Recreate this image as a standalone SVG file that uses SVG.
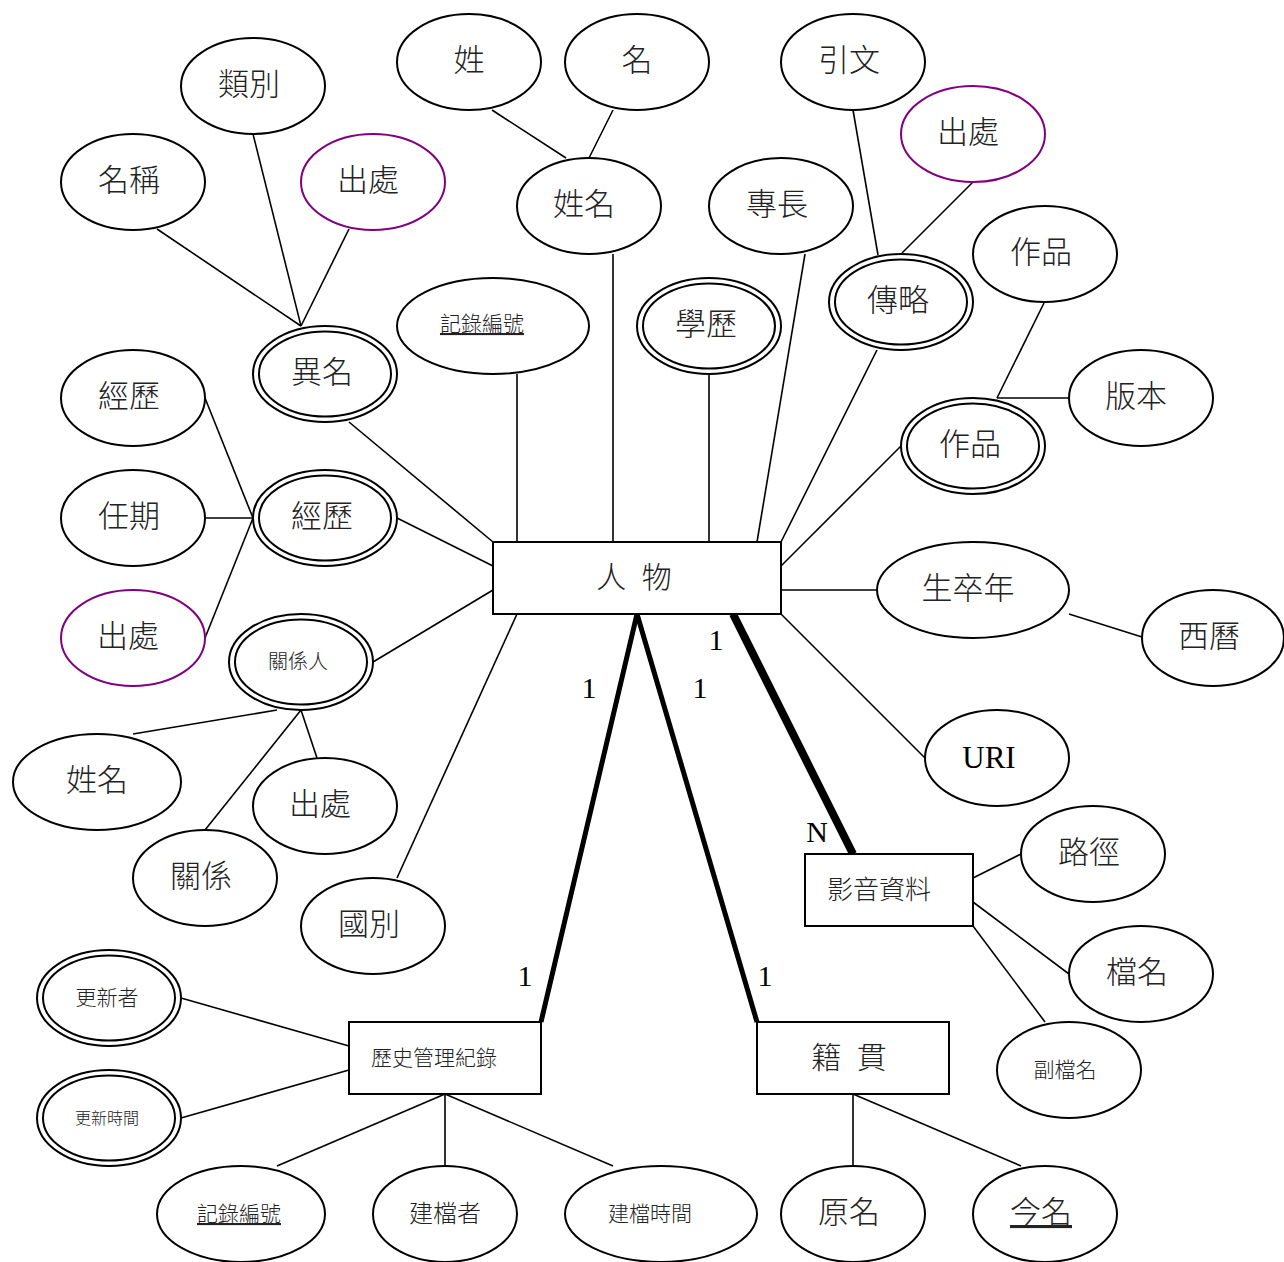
<svg xmlns="http://www.w3.org/2000/svg" width="1284" height="1262" viewBox="0 0 1284 1262">
<style>
.e{fill:#fff;stroke:#000;stroke-width:2}
.p{fill:#fff;stroke:#800080;stroke-width:2}
.r{fill:#fff;stroke:#000;stroke-width:2}
.c line{stroke:#000;stroke-width:1.6}
.t{font-family:"Noto Sans CJK TC","Noto Sans CJK SC",sans-serif;font-weight:300;text-anchor:middle;fill:#222}
.l{font-family:"Liberation Serif",serif;font-size:30px;fill:#000;text-anchor:middle}
.u{text-decoration:underline}
</style>
<rect width="1284" height="1262" fill="#fff"/>
<g class="c" id="connectors">
<line x1="157" y1="229" x2="301" y2="326"/>
<line x1="253" y1="134" x2="301" y2="326"/>
<line x1="349" y1="229" x2="301" y2="326"/>
<line x1="492" y1="110" x2="566" y2="158"/>
<line x1="613" y1="110" x2="589" y2="158"/>
<line x1="853" y1="110" x2="878" y2="255"/>
<line x1="973" y1="182" x2="902" y2="253"/>
<line x1="1044" y1="303" x2="997" y2="398"/>
<line x1="997" y1="398" x2="1069" y2="398"/>
<line x1="349" y1="422" x2="493" y2="542"/>
<line x1="517" y1="374" x2="517" y2="542"/>
<line x1="613" y1="254" x2="613" y2="542"/>
<line x1="709" y1="375" x2="709" y2="542"/>
<line x1="805" y1="254" x2="757" y2="542"/>
<line x1="877" y1="350" x2="781" y2="542"/>
<line x1="901" y1="446" x2="781" y2="566"/>
<line x1="205" y1="398" x2="253" y2="518"/>
<line x1="205" y1="518" x2="253" y2="518"/>
<line x1="205" y1="638" x2="253" y2="518"/>
<line x1="397" y1="518" x2="493" y2="566"/>
<line x1="373" y1="662" x2="493" y2="590"/>
<line x1="133" y1="734" x2="277" y2="710"/>
<line x1="205" y1="830" x2="301" y2="710"/>
<line x1="317" y1="758" x2="301" y2="710"/>
<line x1="397" y1="878" x2="517" y2="614"/>
<line x1="781" y1="590" x2="877" y2="590"/>
<line x1="1069" y1="614" x2="1142" y2="637"/>
<line x1="781" y1="614" x2="925" y2="758"/>
<line x1="637" y1="614" x2="541" y2="1022" style="stroke-width:5"/>
<line x1="637" y1="614" x2="757" y2="1022" style="stroke-width:5"/>
<line x1="733" y1="614" x2="853" y2="854" style="stroke-width:8"/>
<line x1="973" y1="878" x2="1021" y2="854"/>
<line x1="973" y1="902" x2="1069" y2="974"/>
<line x1="973" y1="926" x2="1045" y2="1022"/>
<line x1="181" y1="998" x2="349" y2="1046"/>
<line x1="181" y1="1118" x2="349" y2="1070"/>
<line x1="445" y1="1094" x2="277" y2="1166"/>
<line x1="445" y1="1094" x2="445" y2="1166"/>
<line x1="445" y1="1094" x2="613" y2="1166"/>
<line x1="853" y1="1094" x2="853" y2="1166"/>
<line x1="853" y1="1094" x2="1021" y2="1166"/>
</g>
<g id="labels">
<text class="l" x="716" y="650">1</text>
<text class="l" x="589" y="698">1</text>
<text class="l" x="700" y="698">1</text>
<text class="l" x="817" y="842">N</text>
<text class="l" x="525" y="986">1</text>
<text class="l" x="765" y="986">1</text>
</g>
<g id="n-renwu"><rect class="r" x="493" y="542" width="288" height="72"/><text class="t" x="634" y="588" font-size="30" word-spacing="9">人 物</text></g>
<g id="n-yingyin"><rect class="r" x="805" y="854" width="168" height="72"/><text class="t" x="879" y="899" font-size="26">影音資料</text></g>
<g id="n-jiguan"><rect class="r" x="757" y="1022" width="192" height="72"/><text class="t" x="849" y="1068" font-size="30" word-spacing="9">籍 貫</text></g>
<g id="n-lishi"><rect class="r" x="349" y="1022" width="192" height="72"/><text class="t" x="434" y="1065" font-size="21">歷史管理紀錄</text></g>
<g id="a-leibie"><ellipse class="e" cx="253" cy="86" rx="72" ry="48"/><text class="t" x="249" y="95" font-size="31">類別</text></g>
<g id="a-mingcheng"><ellipse class="e" cx="133" cy="182" rx="72" ry="48"/><text class="t" x="129" y="191" font-size="31">名稱</text></g>
<g id="a-chuchu1"><ellipse class="p" cx="373" cy="182" rx="72" ry="48"/><text class="t" x="368" y="191" font-size="31">出處</text></g>
<g id="a-yiming"><ellipse class="e" cx="325" cy="374" rx="72" ry="48"/><ellipse class="e" cx="325" cy="374" rx="66" ry="42.5"/><text class="t" x="322" y="383" font-size="31">異名</text></g>
<g id="a-xing"><ellipse class="e" cx="469" cy="62" rx="72" ry="48"/><text class="t" x="469" y="71" font-size="31">姓</text></g>
<g id="a-ming"><ellipse class="e" cx="637" cy="62" rx="72" ry="48"/><text class="t" x="637" y="71" font-size="31">名</text></g>
<g id="a-xingming"><ellipse class="e" cx="589" cy="206" rx="72" ry="48"/><text class="t" x="584" y="215" font-size="31">姓名</text></g>
<g id="a-zhuanchang"><ellipse class="e" cx="781" cy="206" rx="72" ry="48"/><text class="t" x="777" y="215" font-size="31">專長</text></g>
<g id="a-jilu1"><ellipse class="e" cx="493" cy="326" rx="96" ry="48"/><text class="t u" x="482" y="331" font-size="21">記錄編號</text></g>
<g id="a-xueli"><ellipse class="e" cx="709" cy="326" rx="72" ry="48"/><ellipse class="e" cx="709" cy="326" rx="66" ry="42.5"/><text class="t" x="706" y="335" font-size="31">學歷</text></g>
<g id="a-yinwen"><ellipse class="e" cx="853" cy="62" rx="72" ry="48"/><text class="t" x="849" y="71" font-size="31">引文</text></g>
<g id="a-chuchu2"><ellipse class="p" cx="973" cy="134" rx="72" ry="48"/><text class="t" x="968" y="143" font-size="31">出處</text></g>
<g id="a-zhuanlue"><ellipse class="e" cx="901" cy="302" rx="72" ry="48"/><ellipse class="e" cx="901" cy="302" rx="66" ry="42.5"/><text class="t" x="898" y="311" font-size="31">傳略</text></g>
<g id="a-zuopin1"><ellipse class="e" cx="1045" cy="254" rx="72" ry="48"/><text class="t" x="1041" y="263" font-size="31">作品</text></g>
<g id="a-banben"><ellipse class="e" cx="1141" cy="398" rx="72" ry="48"/><text class="t" x="1136" y="407" font-size="31">版本</text></g>
<g id="a-zuopin2"><ellipse class="e" cx="973" cy="446" rx="72" ry="48"/><ellipse class="e" cx="973" cy="446" rx="66" ry="42.5"/><text class="t" x="970" y="455" font-size="31">作品</text></g>
<g id="a-jingli1"><ellipse class="e" cx="133" cy="398" rx="72" ry="48"/><text class="t" x="129" y="407" font-size="31">經歷</text></g>
<g id="a-renqi"><ellipse class="e" cx="133" cy="518" rx="72" ry="48"/><text class="t" x="129" y="527" font-size="31">任期</text></g>
<g id="a-chuchu3"><ellipse class="p" cx="133" cy="638" rx="72" ry="48"/><text class="t" x="128" y="647" font-size="31">出處</text></g>
<g id="a-jingli2"><ellipse class="e" cx="325" cy="518" rx="72" ry="48"/><ellipse class="e" cx="325" cy="518" rx="66" ry="42.5"/><text class="t" x="322" y="527" font-size="31">經歷</text></g>
<g id="a-guanxiren"><ellipse class="e" cx="301" cy="662" rx="72" ry="48"/><ellipse class="e" cx="301" cy="662" rx="66" ry="42.5"/><text class="t" x="298" y="669" font-size="20">關係人</text></g>
<g id="a-xingming2"><ellipse class="e" cx="97" cy="782" rx="84" ry="48"/><text class="t" x="97" y="791" font-size="31">姓名</text></g>
<g id="a-chuchu4"><ellipse class="e" cx="325" cy="806" rx="72" ry="48"/><text class="t" x="320" y="815" font-size="31">出處</text></g>
<g id="a-guanxi"><ellipse class="e" cx="205" cy="878" rx="72" ry="48"/><text class="t" x="201" y="887" font-size="31">關係</text></g>
<g id="a-guobie"><ellipse class="e" cx="373" cy="926" rx="72" ry="48"/><text class="t" x="369" y="935" font-size="31">國別</text></g>
<g id="a-shengzu"><ellipse class="e" cx="973" cy="590" rx="96" ry="48"/><text class="t" x="968" y="599" font-size="31">生卒年</text></g>
<g id="a-xili"><ellipse class="e" cx="1213" cy="638" rx="71" ry="48"/><text class="t" x="1209" y="647" font-size="31">西曆</text></g>
<g id="a-uri"><ellipse class="e" cx="997" cy="758" rx="72" ry="48"/><text x="989" y="768" font-family="Liberation Serif,serif" font-size="31" text-anchor="middle">URI</text></g>
<g id="a-lujing"><ellipse class="e" cx="1093" cy="854" rx="72" ry="48"/><text class="t" x="1089" y="863" font-size="31">路徑</text></g>
<g id="a-dangming"><ellipse class="e" cx="1141" cy="974" rx="72" ry="48"/><text class="t" x="1137" y="983" font-size="31">檔名</text></g>
<g id="a-fudangming"><ellipse class="e" cx="1069" cy="1070" rx="72" ry="48"/><text class="t" x="1065" y="1077" font-size="21">副檔名</text></g>
<g id="a-yuanming"><ellipse class="e" cx="853" cy="1214" rx="72" ry="48"/><text class="t" x="849" y="1223" font-size="31">原名</text></g>
<g id="a-jinming"><ellipse class="e" cx="1045" cy="1214" rx="72" ry="48"/><text class="t u" x="1041" y="1223" font-size="31">今名</text></g>
<g id="a-gengxinzhe"><ellipse class="e" cx="109" cy="998" rx="72" ry="48"/><ellipse class="e" cx="109" cy="998" rx="66" ry="42.5"/><text class="t" x="107" y="1005" font-size="21">更新者</text></g>
<g id="a-gengxinshijian"><ellipse class="e" cx="109" cy="1118" rx="72" ry="48"/><ellipse class="e" cx="109" cy="1118" rx="66" ry="42.5"/><text class="t" x="107" y="1124" font-size="16">更新時間</text></g>
<g id="a-jilu2"><ellipse class="e" cx="241" cy="1214" rx="84" ry="48"/><text class="t u" x="239" y="1221" font-size="21">記錄編號</text></g>
<g id="a-jiandangzhe"><ellipse class="e" cx="445" cy="1214" rx="72" ry="48"/><text class="t" x="445" y="1222" font-size="24">建檔者</text></g>
<g id="a-jiandangshijian"><ellipse class="e" cx="661" cy="1214" rx="96" ry="48"/><text class="t" x="650" y="1221" font-size="21">建檔時間</text></g>
</svg>
